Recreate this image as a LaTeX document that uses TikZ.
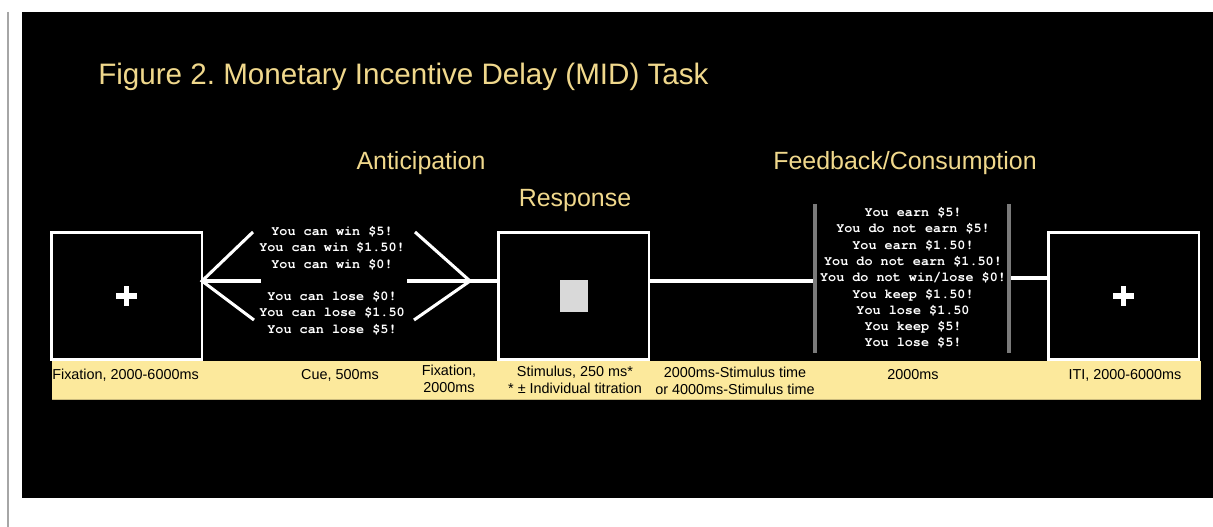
\documentclass[tikz,border=0pt]{standalone}
\usepackage{fontspec}
\setmainfont{Liberation Sans}
\newfontfamily\monof{TeX Gyre Cursor}
\definecolor{titley}{HTML}{F0D88C}
\definecolor{bandy}{HTML}{FCE99C}
\definecolor{barg}{HTML}{7A7A7A}
\definecolor{stimg}{HTML}{D9D9D9}
\begin{document}
\frenchspacing
\begin{tikzpicture}[x=0.75pt,y=-0.75pt,
  screen/.style={draw=white,line width=1.9pt,fill=black,minimum width=113pt,minimum height=95.5pt,inner sep=0pt,anchor=north west},
  link/.style={draw=white,line width=2.3pt},
  head/.style={text=titley,font=\fontsize{18.7pt}{22pt}\selectfont,inner sep=0pt},
  lab/.style={text=black,font=\fontsize{10.8pt}{12.8pt}\selectfont,align=center,inner sep=0pt},
  msg/.style={text=white,font=\monof\bfseries\fontsize{10.1pt}{12.2pt}\selectfont,align=center,inner sep=0pt},
  bar/.style={draw=barg,line width=3pt},
  plus/.style={fill=white}]
\useasboundingbox (0,0) rectangle (1213,527);
\fill[white] (0,0) rectangle (1213,527);
\draw[draw=gray!70,line width=0.8pt] (8,12) -- (8,527);
\fill[black] (22,12) rectangle (1213,498);
% title
\node[text=titley,font=\fontsize{22.2pt}{26pt}\selectfont,anchor=base west,inner sep=0pt] (title) at (98,85) {Figure 2. Monetary Incentive Delay (MID) Task};
\node[head,anchor=base] (ant) at (421,170) {Anticipation};
\node[head,anchor=base] (resp) at (575,207) {Response};
\node[head,anchor=base] (fb) at (905,170) {Feedback/Consumption};
% band
\fill[bandy] (52,361) rectangle (1201,399);
\draw[draw=bandy!80!black,line width=0.6pt] (52,399) -- (1201,399);
% screens
\node[screen] (s1) at (50,231) {};
\node[screen] (s2) at (497,231) {};
\node[screen] (s3) at (1047,231) {};
\foreach \c in {s1,s3}{
  \fill[white] ([xshift=-7.8pt,yshift=2pt]\c.center) rectangle ([xshift=7.8pt,yshift=-2pt]\c.center);
  \fill[white] ([xshift=-2pt,yshift=7.3pt]\c.center) rectangle ([xshift=2pt,yshift=-7.3pt]\c.center);
}
\fill[stimg] ([xshift=-10.5pt,yshift=12pt]s2.center) rectangle ([xshift=10.5pt,yshift=-12pt]s2.center);
% cue messages
\node[msg] (win) at (332,248) {You can win \$5!\\You can win \$1.50!\\You can win \$0!};
\node[msg] (lose) at (332,313) {You can lose \$0!\\You can lose \$1.50\\You can lose \$5!};
\coordinate (c1) at (202,281);
\coordinate (ua) at (253,232);
\coordinate (ma) at (261,281);
\coordinate (la) at (254,320);
\coordinate (ub) at (415,232);
\coordinate (mb) at (407,281);
\coordinate (lb) at (414,320);
\coordinate (c2) at (470,281);
\draw[link] (ua) -- (c1) -- (la);
\draw[link] (c1) -- (ma);
\draw[link] (ub) -- (c2) -- (lb);
\draw[link] (mb) -- (c2) -- (s2.west |- c2);
% feedback
\coordinate (b1t) at (815,204);
\coordinate (b1b) at (815,353);
\coordinate (b2t) at (1009,204);
\coordinate (b2b) at (1009,353);
\draw[bar] (b1t) -- (b1b);
\draw[bar] (b2t) -- (b2b);
\node[msg] (fbm) at (913,278) {You earn \$5!\\You do not earn \$5!\\You earn \$1.50!\\You do not earn \$1.50!\\You do not win/lose \$0!\\You keep \$1.50!\\You lose \$1.50\\You keep \$5!\\You lose \$5!};
\coordinate (f1) at (813,281);
\coordinate (f2) at (1011,278);
\draw[link] (s2.east |- f1) -- (f1);
\draw[link] (f2) -- (s3.west |- f2);
% labels
\node[lab,anchor=west] (l1) at (52,375) {Fixation, 2000-6000ms};
\node[lab] (l2) at (340,375) {Cue, 500ms};
\node[lab] (l3) at (449,379) {Fixation,\\2000ms};
\node[lab] (l4) at (575,380) {Stimulus, 250 ms*\\* ± Individual titration};
\node[lab] (l5) at (735,381) {2000ms-Stimulus time\\or 4000ms-Stimulus time};
\node[lab] (l6) at (913,375) {2000ms};
\node[lab] (l7) at (1125,375) {ITI, 2000-6000ms};
\end{tikzpicture}
\end{document}
